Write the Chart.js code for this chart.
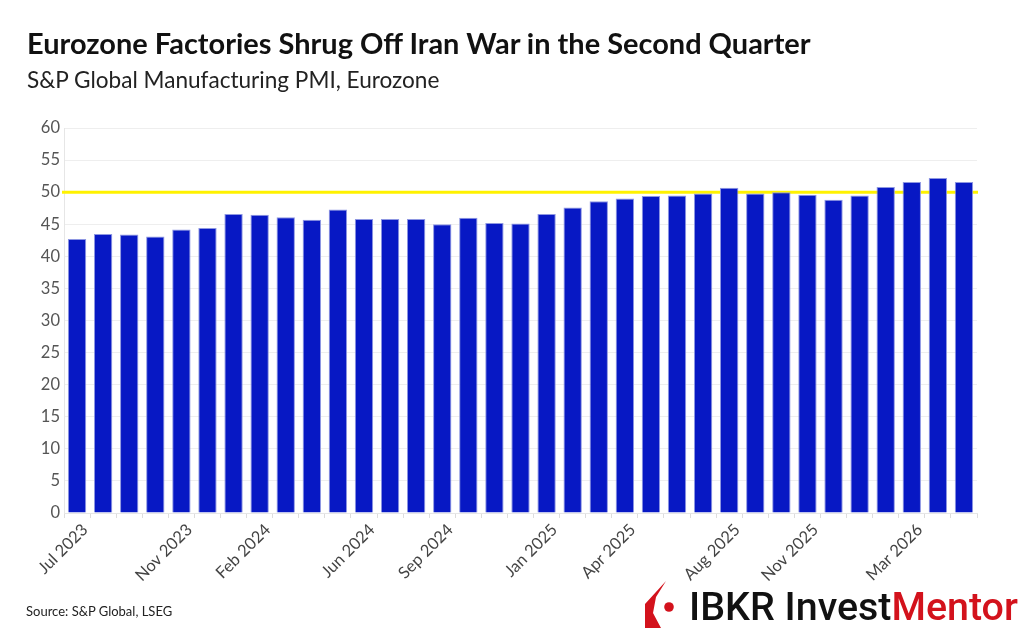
<!DOCTYPE html>
<html>
<head>
<meta charset="utf-8">
<script src="https://cdn.jsdelivr.net/npm/chart.js@4.4.1/dist/chart.umd.min.js"></script>
<style>
  html, body { margin:0; padding:0; background:#fff; }
  body { width:1034px; height:640px; position:relative; overflow:hidden; font-family: Lato, "Open Sans", sans-serif; }
  #wrap { position:absolute; left:0; top:0; width:1034px; height:640px; }
  .txt { position:absolute; white-space:nowrap; line-height:1; }
  #title { left:27px; top:29px; font-weight:700; color:#111; }
  #subtitle { left:27px; top:69px; color:#222; }
  #source { left:26px; top:605px; color:#222; font-size:13px; }
  #logo { position:absolute; left:644px; top:580px; height:50px; }
  #logotext { left:689px; top:587px; font-family: Roboto, sans-serif; font-weight:500; color:#111; }
  #logotext span { color:#d3121c; }
</style>
</head>
<body>
<div id="wrap"><canvas id="c" width="1034" height="640"></canvas></div>
<div class="txt" id="title">Eurozone Factories Shrug Off Iran War in the Second Quarter</div>
<div class="txt" id="subtitle">S&amp;P Global Manufacturing PMI, Eurozone</div>
<div class="txt" id="source">Source: S&amp;P Global, LSEG</div>
<svg id="logo" width="32" height="50" viewBox="0 0 32 50">
  <polygon points="22,1 1,24 1,48 17,48 9,33 12,17" fill="#d3121c"/>
  <circle cx="25" cy="27" r="4.8" fill="#d3121c"/>
</svg>
<div class="txt" id="logotext">IBKR Invest<span>Mentor</span></div>
<script>
const months = ["Jul 2023","Aug 2023","Sep 2023","Oct 2023","Nov 2023","Dec 2023",
  "Jan 2024","Feb 2024","Mar 2024","Apr 2024","May 2024","Jun 2024",
  "Jul 2024","Aug 2024","Sep 2024","Oct 2024","Nov 2024","Dec 2024",
  "Jan 2025","Feb 2025","Mar 2025","Apr 2025","May 2025","Jun 2025",
  "Jul 2025","Aug 2025","Sep 2025","Oct 2025","Nov 2025","Dec 2025",
  "Jan 2026","Feb 2026","Mar 2026","Apr 2026","May 2026"];
const pmiValues = [42.7,43.5,43.4,43.1,44.2,44.4,46.6,46.5,46.1,45.7,47.3,45.8,
  45.8,45.8,45.0,46.0,45.2,45.1,46.6,47.6,48.6,49.0,49.4,49.5,
  49.8,50.7,49.8,50.0,49.6,48.8,49.5,50.8,51.6,52.2,51.6];
const shownTickLabels = ["Jul 2023","Nov 2023","Feb 2024","Jun 2024","Sep 2024",
  "Jan 2025","Apr 2025","Aug 2025","Nov 2025","Mar 2026"];
const yTicks = [0,5,10,15,20,25,30,35,40,45,50,55,60];
const threshold = 50;

function fitWidth(id, target, family, weight) {
  const el = document.getElementById(id);
  const cv = document.createElement('canvas').getContext('2d');
  cv.font = weight + ' 100px ' + family;
  const w = cv.measureText(el.textContent).width;
  el.style.fontSize = (100 * target / w).toFixed(2) + 'px';
}
fitWidth('title', 785, 'Lato', '700');
fitWidth('subtitle', 413, 'Lato', '400');
fitWidth('logotext', 329, 'Roboto', '500');

const thresholdLine = {
  id: 'thresholdLine',
  beforeDatasetsDraw(chart) {
    const {ctx, chartArea, scales} = chart;
    const y = scales.y.getPixelForValue(threshold);
    ctx.save();
    ctx.strokeStyle = '#fff200';
    ctx.lineWidth = 3;
    ctx.beginPath();
    ctx.moveTo(chartArea.left - 2, y);
    ctx.lineTo(chartArea.right + 1, y);
    ctx.stroke();
    ctx.restore();
  }
};

new Chart(document.getElementById('c'), {
  type: 'bar',
  data: {
    labels: months,
    datasets: [{
      label: 'PMI',
      data: pmiValues,
      backgroundColor: '#0718c4',
      borderColor: '#8e97e2',
      borderWidth: 1,
      categoryPercentage: 0.8,
      barPercentage: 0.88
    }]
  },
  options: {
    responsive: false,
    animation: false,
    devicePixelRatio: 1,
    layout: { padding: { left: 20, right: 57, top: 128, bottom: 0 } },
    plugins: { legend: { display: false }, tooltip: { enabled: false } },
    scales: {
      x: {
        offset: true,
        grid: { offset: true, drawOnChartArea: false, drawTicks: true, tickLength: 5, color: '#dddddd' },
        border: { color: '#e6e6e6' },
        ticks: {
          autoSkip: false, maxRotation: 45, minRotation: 45,
          color: '#444', font: { family: 'Lato', size: 16.5 },
          padding: 2, labelOffset: 8,
          callback: function(v) { const l = this.getLabelForValue(v); return shownTickLabels.includes(l) ? l : ''; }
        },
        afterFit(scale) { scale.height = 127; }
      },
      y: {
        min: 0, max: 60,
        afterBuildTicks(scale) { scale.ticks = yTicks.map(v => ({value: v})); },
        grid: { color: '#eeeeee', drawTicks: false },
        border: { color: '#e6e6e6', display: true },
        ticks: { color: '#555', font: { family: 'Lato', size: 16.5 }, padding: 4 },
        afterFit(scale) { scale.width = 44; }
      }
    }
  },
  plugins: [thresholdLine]
});
</script>
</body>
</html>
